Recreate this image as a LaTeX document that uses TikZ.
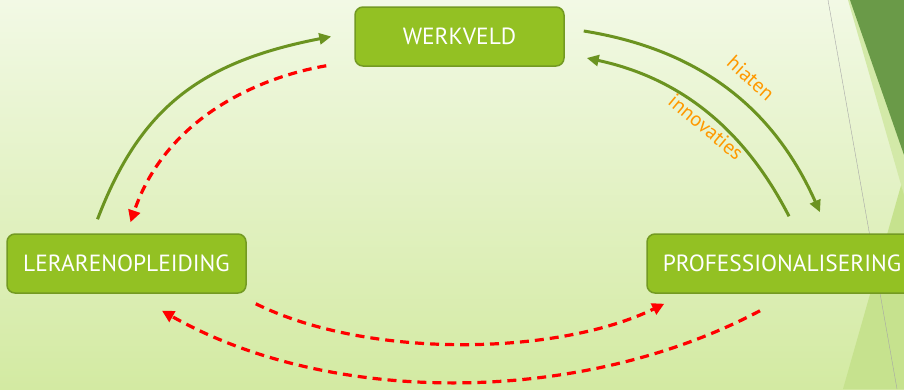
\documentclass[tikz,border=0pt]{standalone}
\usepackage{fontspec}
\setmainfont{PT Sans}
\usetikzlibrary{arrows.meta}
\definecolor{boxgreen}{HTML}{93C123}
\definecolor{boxedge}{HTML}{739A22}
\definecolor{linegreen}{HTML}{6B9320}
\definecolor{labelorange}{HTML}{FF9900}
\definecolor{bgtop}{HTML}{F2F9E5}
\definecolor{bgbottom}{HTML}{D3EAA2}
\definecolor{facetdark}{HTML}{6A9A48}
\definecolor{facetlight}{HTML}{C6E28E}
\tikzset{
  stage/.style={draw=boxedge, fill=boxgreen, line width=1.5pt, rounded corners=8pt,
    text=white, font=\fontsize{23.4}{26}\selectfont, minimum height=59pt, inner xsep=0pt},
  flow/.style={draw=linegreen, line width=3pt, -{Triangle[length=12pt,width=11pt]}},
  back/.style={draw=red, line width=3.2pt, dash pattern=on 9pt off 6pt,
    -{Triangle[length=12pt,width=12pt]}},
  gaplabel/.style={text=labelorange, font=\fontsize{20.5}{22}\selectfont, inner sep=1pt}
}

\begin{document}
\begin{tikzpicture}[x=1pt, y=-1pt]
          \clip (0,0) rectangle (904,389);
          % Background
          \shade[top color=bgtop, bottom color=bgbottom] (0,0) rectangle (904,389);
          \fill[facetlight] (904,175) -- (904,389) -- (843,389) -- cycle;
          \fill[facetlight!70!bgtop] (848,0) -- (904,0) -- (904,195) -- cycle;
          \fill[facetdark] (850,0) -- (904,0) -- (904,155) -- cycle;
          \draw[gray!70, thin] (828,0) -- (897,389);
          % Stages
          \node[stage, minimum width=209pt] (wv) at (459.5,36.5) {WERKVELD};
          \node[stage, minimum width=239pt] (lo) at (126.5,263.5) {LERARENOPLEIDING};
          \node[stage, minimum width=270pt] (pro) at (782,263.5) {PROFESSIONALISERING};
          % Werkveld and lerarenopleiding
          \draw[flow] ([xshift=-29pt,yshift=14pt]lo.north) .. controls (140,108) and (200,62) .. ([xshift=-23pt]wv.west);
          \draw[back] ([xshift=-28pt,yshift=1pt]wv.south west) .. controls (255,78) and (165,120) .. ([xshift=4pt,yshift=11pt]lo.north);
          % Werkveld and professionalisering
          \draw[flow] ([xshift=19pt,yshift=5.5pt]wv.east) .. controls (690,48) and (770,100) .. ([xshift=38pt,yshift=21pt]pro.north);
          \draw[flow] ([xshift=7pt,yshift=17pt]pro.north) .. controls (750,140) and (690,80) .. ([xshift=22pt,yshift=-21.5pt]wv.east);
          \node[gaplabel, rotate=-42] (hiaten) at (751,78) {hiaten};
          \node[gaplabel, rotate=-40] (innov) at (706,127) {innovaties};
          % Lerarenopleiding and professionalisering
          \draw[back] ([xshift=9pt,yshift=-10pt]lo.south east) .. controls (370,360) and (560,355) .. ([xshift=18pt,yshift=-10pt]pro.south west);
          \draw[back] ([xshift=-22pt,yshift=-17pt]pro.south) .. controls (580,406) and (330,406) .. ([xshift=35.5pt,yshift=-17pt]lo.south);
        \end{tikzpicture}
\end{document}
